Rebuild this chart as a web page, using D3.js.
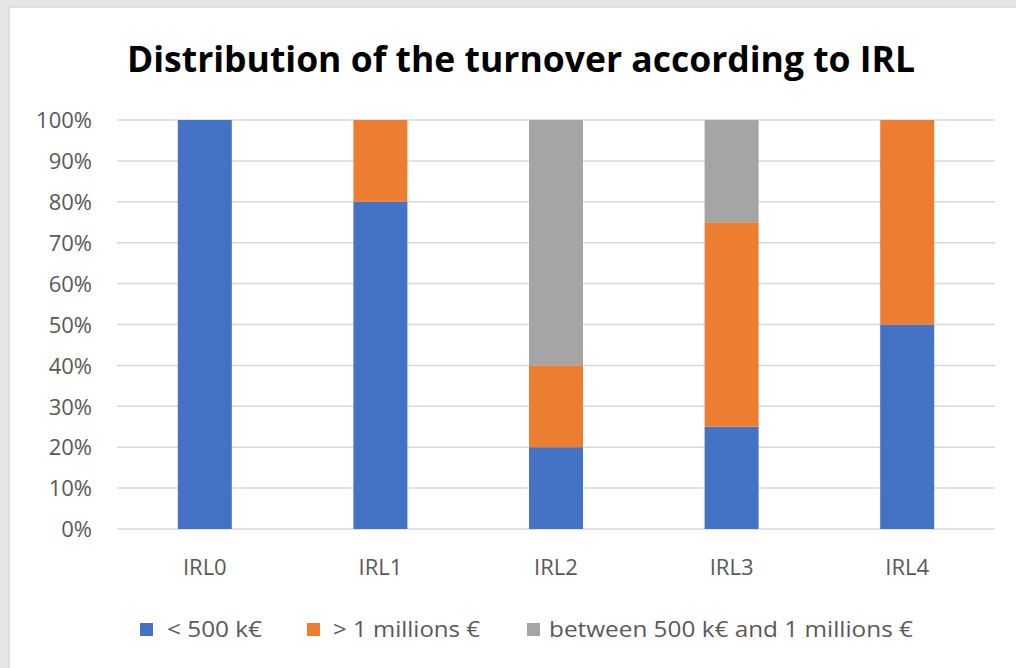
<!DOCTYPE html>
<html>
<head>
<meta charset="utf-8">
<script src="https://cdn.jsdelivr.net/npm/d3@7/dist/d3.min.js"></script>
<style>
  html, body { margin: 0; padding: 0; background: #fff; }
  svg { display: block; }
</style>
</head>
<body>
<svg id="chart" width="1016" height="668"></svg>
<script>
// Turnover distribution per IRL level (share of companies, %)
const categories = ["IRL0", "IRL1", "IRL2", "IRL3", "IRL4"];
const seriesNames = ["< 500 k€", "> 1 millions €", "between 500 k€ and 1 millions €"];
const under500k = [100, 80, 20, 25, 50];
const over1M = [0, 20, 20, 50, 50];
const between500kAnd1M = [0, 0, 60, 25, 0];
const yTicks = [0, 10, 20, 30, 40, 50, 60, 70, 80, 90, 100];
const colors = ["#4472c4", "#ed7d31", "#a5a5a5"];

const svg = d3.select("#chart");
const font = "'Open Sans', 'Liberation Sans', sans-serif";
const textColor = "#595959";

// outer panel frame
svg.append("rect").attr("x", 0).attr("y", 0).attr("width", 1016).attr("height", 668).attr("fill", "#e6e6e6");
svg.append("rect").attr("x", 9).attr("y", 7).attr("width", 1020).attr("height", 680)
  .attr("fill", "#fff").attr("stroke", "#d9d9d9").attr("stroke-width", 1.5);

const rows = categories.map((c, i) => ({
  cat: c,
  s0: under500k[i],
  s1: over1M[i],
  s2: between500kAnd1M[i]
}));

const stack = d3.stack().keys(["s0", "s1", "s2"]);
const layers = stack(rows);

const x = d3.scaleBand().domain(categories).range([117, 995]).paddingInner(0.6925).paddingOuter(0.34625);
const y = d3.scaleLinear().domain([0, 100]).range([529, 120]);

// gridlines
svg.append("g").selectAll("line").data(yTicks).join("line")
  .attr("x1", 117).attr("x2", 995)
  .attr("y1", d => y(d)).attr("y2", d => y(d))
  .attr("stroke", "#d9d9d9").attr("stroke-width", 1.5);

// y-axis labels
const yAxis = d3.axisLeft(y).tickValues(yTicks).tickFormat(d => d + "%").tickSize(0).tickPadding(0);
const gy = svg.append("g").attr("transform", "translate(92,0)").call(yAxis);
gy.select(".domain").remove();
gy.selectAll("text").attr("font-family", font).attr("font-size", 22).attr("fill", textColor).attr("dy", "0.35em");

// stacked bars
svg.append("g").selectAll("g").data(layers).join("g")
  .attr("fill", (d, i) => colors[i])
  .selectAll("rect").data(d => d.filter(s => s[1] - s[0] > 0)).join("rect")
  .attr("x", d => x(d.data.cat))
  .attr("width", x.bandwidth())
  .attr("y", d => y(d[1]))
  .attr("height", d => y(d[0]) - y(d[1]));

// x-axis labels
const xAxis = d3.axisBottom(x).tickSize(0).tickPadding(0);
const gx = svg.append("g").attr("transform", "translate(0,567)").call(xAxis);
gx.select(".domain").remove();
gx.selectAll("text").attr("font-family", font).attr("font-size", 22).attr("fill", textColor).attr("dy", "0.35em");

// title
svg.append("text").attr("x", 521).attr("y", 72).attr("text-anchor", "middle")
  .attr("font-family", "'Open Sans', 'Liberation Sans', sans-serif").attr("font-weight", "bold")
  .attr("font-size", 36).attr("fill", "#000")
  .attr("textLength", 788).attr("lengthAdjust", "spacingAndGlyphs")
  .text("Distribution of the turnover according to IRL");

// legend
const legendX = [140, 307, 527];
const legendTextX = [27, 26, 22];
const legendTextW = [95, 147, 364];
const legend = svg.append("g").selectAll("g").data(seriesNames).join("g")
  .attr("transform", (d, i) => `translate(${legendX[i]},623)`);
legend.append("rect").attr("width", 13).attr("height", 13).attr("fill", (d, i) => colors[i]);
legend.append("text").attr("x", (d, i) => legendTextX[i]).attr("y", 6.5).attr("dy", "0.35em")
  .attr("font-family", font).attr("font-size", 22).attr("fill", textColor)
  .attr("textLength", (d, i) => legendTextW[i]).attr("lengthAdjust", "spacingAndGlyphs")
  .text(d => d);
</script>
</body>
</html>
